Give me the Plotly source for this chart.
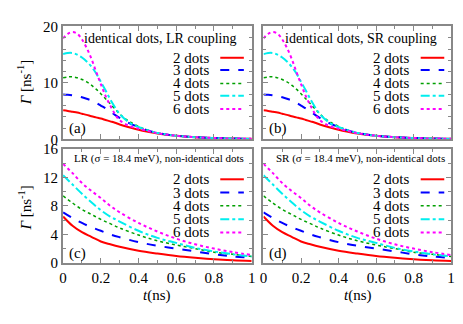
import plotly.graph_objects as go

# time grids (ns)
t_id = [0, 0.025, 0.05, 0.075, 0.1, 0.125, 0.15, 0.175, 0.2, 0.225, 0.25, 0.275, 0.3, 0.35, 0.4, 0.45, 0.5, 0.6, 0.7, 0.8, 0.9, 1.0]
t_ni = [0, 0.05, 0.1, 0.15, 0.2, 0.25, 0.3, 0.4, 0.5, 0.6, 0.7, 0.8, 0.9, 1.0]

# identical dots (panels a, b)
id_2 = [5.15, 5.05, 4.9, 4.75, 4.55, 4.35, 4.1, 3.9, 3.7, 3.45, 3.2, 2.95, 2.65, 2.15, 1.7, 1.35, 1.05, 0.65, 0.4, 0.25, 0.15, 0.1]
id_3 = [7.95, 7.9, 7.8, 7.65, 7.45, 7.2, 6.9, 6.5, 6.0, 5.5, 4.95, 4.35, 3.8, 2.9, 2.2, 1.6, 1.15, 0.65, 0.4, 0.25, 0.15, 0.1]
id_4 = [10.9, 11.05, 11.1, 10.9, 10.6, 10.2, 9.6, 8.9, 8.1, 7.2, 6.3, 5.4, 4.5, 3.2, 2.3, 1.6, 1.15, 0.65, 0.4, 0.25, 0.15, 0.1]
id_5 = [15.1, 15.3, 15.3, 15.0, 14.5, 13.8, 12.9, 11.7, 10.2, 8.7, 7.1, 5.7, 4.5, 3.0, 2.2, 1.6, 1.15, 0.65, 0.4, 0.25, 0.15, 0.1]
id_6 = [17.9, 18.7, 19.0, 18.7, 17.7, 16.2, 14.3, 12.0, 9.8, 7.7, 6.0, 4.5, 3.4, 2.4, 1.9, 1.5, 1.1, 0.65, 0.4, 0.25, 0.15, 0.1]

# non-identical dots (panels c, d)
ni_2 = [6.5, 5.2, 4.3, 3.65, 3.0, 2.6, 2.25, 1.7, 1.3, 0.95, 0.7, 0.5, 0.35, 0.25]
ni_3 = [7.1, 6.3, 5.6, 5.0, 4.5, 4.0, 3.6, 2.9, 2.4, 2.0, 1.6, 1.2, 0.9, 0.7]
ni_4 = [9.4, 8.4, 7.5, 6.8, 6.1, 5.5, 4.9, 3.9, 3.1, 2.5, 2.0, 1.5, 1.2, 0.9]
ni_5 = [12.3, 11.0, 9.7, 8.5, 7.4, 6.5, 5.8, 4.5, 3.5, 2.8, 2.1, 1.6, 1.2, 0.9]
ni_6 = [13.9, 12.6, 11.2, 10.1, 9.1, 8.0, 7.1, 5.6, 4.4, 3.4, 2.6, 2.0, 1.5, 1.1]

names = ['2 dots', '3 dots', '4 dots', '5 dots', '6 dots']
colors = ['#ff0000', '#0000ff', '#00a000', '#00eeee', '#ff00ff']
dashes = ['solid', 'dash', 'dot', 'dashdot', '3px,3px']
widths = [2, 2, 1.5, 2, 2]

# the page puts the plot 8px in from the top-left corner
OFF = 8
W, H = 463 - OFF, 324 - OFF
def px(x):
    return (x - OFF) / W
def py(y):
    return 1 - (y - OFF) / H

serif = 'Liberation Serif, Times New Roman, serif'
frame = '#888888'
tfont = dict(family=serif, size=15, color='black')

fig = go.Figure()

panels = [
    # axis suffix, t, series, x0, x1, y0, y1 (pixels), ymax, dtick
    ('', t_id, [id_2, id_3, id_4, id_5, id_6], 60, 252, 19, 138, 20, 10),
    ('2', t_id, [id_2, id_3, id_4, id_5, id_6], 264, 455, 19, 138, 20, 10),
    ('3', t_ni, [ni_2, ni_3, ni_4, ni_5, ni_6], 60, 252, 148, 268, 16, 4),
    ('4', t_ni, [ni_2, ni_3, ni_4, ni_5, ni_6], 264, 455, 148, 268, 16, 4),
]

for i, (s, t, series, x0, x1, y0, y1, ymax, dt) in enumerate(panels):
    for j, y in enumerate(series):
        fig.add_trace(go.Scatter(x=t, y=y, mode='lines', line_shape='spline',
                                 line=dict(color=colors[j], dash=dashes[j], width=widths[j]),
                                 xaxis='x' + s, yaxis='y' + s, showlegend=False))
    bottom = i >= 2
    left = i % 2 == 0
    fig.update_layout(**{
        'xaxis' + s: dict(domain=[px(x0), px(x1)], anchor='y' + s, range=[0, 1.0001],
                          showgrid=False, zeroline=False, showline=True, mirror='ticks',
                          linecolor=frame, linewidth=2, ticks='inside', ticklen=5,
                          tickcolor=frame, tickwidth=1,
                          tickvals=[0, 0.2, 0.4, 0.6, 0.8, 1],
                          ticktext=['0', '0.2', '0.4', '0.6', '0.8', '1'],
                          showticklabels=bottom, ticklabeloverflow='allow',
                          minor=dict(tickvals=[0.1, 0.3, 0.5, 0.7, 0.9], ticks='inside',
                                     ticklen=3, tickcolor=frame),
                          tickfont=tfont),
        'yaxis' + s: dict(domain=[py(y1), py(y0)], anchor='x' + s, range=[0, ymax],
                          showgrid=False, zeroline=False, showline=True, mirror='ticks',
                          linecolor=frame, linewidth=2, ticks='inside', ticklen=5,
                          tickcolor=frame, tickwidth=1, dtick=dt, tick0=0,
                          showticklabels=left, ticklabeloverflow='allow',
                          minor=dict(dtick=2, ticks='inside', ticklen=3, tickcolor=frame),
                          tickfont=tfont),
    })

ann = []
shapes = []

# panel titles
ann.append(dict(x=px(159), y=py(32), text='identical dots, LR coupling', font=dict(family=serif, size=14, color='black')))
ann.append(dict(x=px(363), y=py(32), text='identical dots, SR coupling', font=dict(family=serif, size=14, color='black')))
ann.append(dict(x=px(158), y=py(158), text='LR (σ = 18.4 meV), non-identical dots', font=dict(family=serif, size=11, color='black')))
ann.append(dict(x=px(363), y=py(158), text='SR (σ = 18.4 meV), non-identical dots', font=dict(family=serif, size=11, color='black')))

# panel letters
for lab, x, y in [('(a)', 75, 127), ('(b)', 279, 127), ('(c)', 75, 258), ('(d)', 279, 258)]:
    ann.append(dict(x=px(x), y=py(y), text=lab))

# y axis titles
for y in [78, 210]:
    ann.append(dict(x=px(21), y=py(y), text='<i>Γ</i> [ns<sup>-1</sup>]', textangle=-90))

# x axis titles
for x in [156, 360]:
    ann.append(dict(x=px(x), y=py(302), text='<i>t</i>(ns)'))

# legends
for tx, lx0, lx1, rows in [(211, 220, 244, [52, 65, 79, 92, 106]),
                           (414, 424, 448, [52, 65, 79, 92, 106]),
                           (211, 220, 244, [180, 194, 208, 222, 236]),
                           (414, 424, 448, [180, 194, 208, 222, 236])]:
    for j, ry in enumerate(rows):
        ann.append(dict(x=px(tx), y=py(ry), text=names[j], xanchor='right'))
        shapes.append(dict(type='line', xref='paper', yref='paper',
                           x0=px(lx0), x1=px(lx1), y0=py(ry), y1=py(ry),
                           line=dict(color=colors[j], dash=dashes[j], width=widths[j])))

for a in ann:
    a.setdefault('xref', 'paper')
    a.setdefault('yref', 'paper')
    a.setdefault('showarrow', False)
    a.setdefault('xanchor', 'center')
    a.setdefault('yanchor', 'middle')
    a.setdefault('font', dict(family=serif, size=15, color='black'))

fig.update_layout(width=W, height=H, margin=dict(l=0, r=0, t=0, b=0),
                  font=dict(family=serif, size=15, color='black'),
                  plot_bgcolor='white', paper_bgcolor='white',
                  annotations=ann, shapes=shapes, showlegend=False)

fig.write_html('out.html')
